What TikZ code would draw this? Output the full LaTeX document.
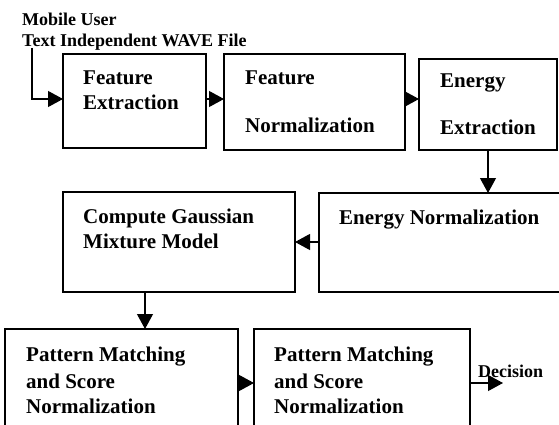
\documentclass[tikz,border=0pt]{standalone}
\usepackage{fontspec}
\setmainfont{Liberation Serif}
\usetikzlibrary{arrows.meta}
\begin{document}
\begin{tikzpicture}[x=1pt,y=-1pt,
  box/.style={draw=black,line width=1.2pt,inner sep=0pt,outer sep=0pt,anchor=north west},
  lbl/.style={anchor=base west,inner sep=0pt,font=\fontsize{21}{25}\selectfont\bfseries},
  toplbl/.style={anchor=base west,inner sep=0pt,font=\fontsize{18}{22}\selectfont\bfseries},
  arr/.style={line width=1.1pt,-{Triangle[length=15pt,width=16pt]}}]
\useasboundingbox (0,0) rectangle (559,425);
\clip (0,0) rectangle (559,425);
% boxes
\node[box,minimum width=143pt,minimum height=94pt] (b1) at (63,54) {};
\node[box,minimum width=181pt,minimum height=96pt] (b2) at (224,54) {};
\node[box,minimum width=138pt,minimum height=91pt] (b3) at (419,59) {};
\node[box,minimum width=260pt,minimum height=99pt] (en) at (319,193) {};
\node[box,minimum width=232pt,minimum height=100pt] (gmm) at (63,192) {};
\node[box,minimum width=233pt,minimum height=120pt] (pm1) at (5,329) {};
\node[box,minimum width=216pt,minimum height=120pt] (pm2) at (254,329) {};
% texts
\node[toplbl] (t1) at (22,26) {Mobile User};
\node[toplbl] (t2) at (22,47) {Text Independent WAVE File};
\node[lbl] (b1a) at (83,85) {Feature};
\node[lbl] (b1b) at (83,110) {Extraction};
\node[lbl] (b2a) at (245,85) {Feature};
\node[lbl] (b2b) at (245,132) {Normalization};
\node[lbl] (b3a) at (440,88) {Energy};
\node[lbl] (b3b) at (440,135) {Extraction};
\node[lbl] (ena) at (339,224) {Energy Normalization};
\node[lbl] (gmma) at (83,223) {Compute Gaussian};
\node[lbl] (gmmb) at (83,248) {Mixture Model};
\node[lbl] (p1a) at (26,361) {Pattern Matching};
\node[lbl] (p1b) at (26,388) {and Score};
\node[lbl] (p1c) at (26,413) {Normalization};
\node[lbl] (p2a) at (274,361) {Pattern Matching};
\node[lbl] (p2b) at (274,388) {and Score};
\node[lbl] (p2c) at (274,413) {Normalization};
\node[toplbl] (dec) at (478,377) {Decision};
% connectors
\coordinate (in) at (32,48);
\coordinate (out) at (503,383);
\draw[arr] (in) |- (b1.west |- 0,99);
\draw[arr] (b1.east |- 0,99) -- (b2.west |- 0,99);
\draw[arr] (b2.east |- 0,99) -- (b3.west |- 0,99);
\draw[arr] (b3.south -| 488,0) -- (en.north -| 488,0);
\draw[arr] (en.west |- 0,242) -- (gmm.east |- 0,242);
\draw[arr] (gmm.south -| 145,0) -- (pm1.north -| 145,0);
\draw[arr] (pm1.east |- 0,383) -- (pm2.west |- 0,383);
\draw[arr] (pm2.east |- out) -- (out);
\end{tikzpicture}
\end{document}
